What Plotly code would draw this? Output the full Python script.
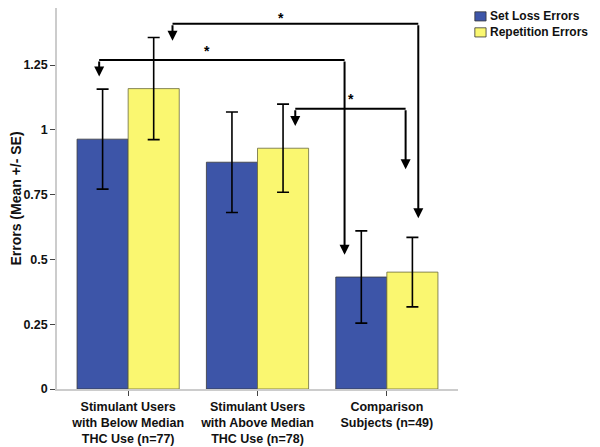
import plotly.graph_objects as go

categories = ["Stimulant Users<br>with Below Median<br>THC Use (n=77)",
              "Stimulant Users<br>with Above Median<br>THC Use (n=78)",
              "Comparison<br>Subjects (n=49)"]
series_names = ["Set Loss Errors", "Repetition Errors"]
set_loss = [0.964, 0.875, 0.432]
set_loss_se = [0.193, 0.194, 0.178]
repetition = [1.159, 0.929, 0.451]
repetition_se = [0.197, 0.170, 0.134]
y_ticks = [0, 0.25, 0.5, 0.75, 1, 1.25]
y_tick_labels = ["0", "0.25", "0.5", "0.75", "1", "1.25"]

FONT = "Liberation Sans, Arial, sans-serif"
BLUE = "#3d55a8"
YELLOW = "#faf770"
xs = [0, 1, 2]

fig = go.Figure()
fig.add_trace(go.Bar(x=xs, y=set_loss, name=series_names[0], showlegend=False,
                     marker=dict(color=BLUE, line=dict(color="#3a3a3a", width=0.8)),
                     error_y=dict(type="data", array=set_loss_se, color="black", thickness=1.6, width=6)))
fig.add_trace(go.Bar(x=xs, y=repetition, name=series_names[1], showlegend=False,
                     marker=dict(color=YELLOW, line=dict(color="#6a6a40", width=0.8)),
                     error_y=dict(type="data", array=repetition_se, color="black", thickness=1.6, width=6)))

# significance brackets: (left x, left tip y, bar y, right x, right tip y, star x, star top y)
brackets = [
    (-0.224, 1.206, 1.269, 1.673, 0.518, 0.609, 1.344),
    (0.343, 1.344, 1.409, 2.243, 0.659, 1.179, 1.470),
    (1.292, 1.015, 1.081, 2.145, 0.848, 1.726, 1.156),
]
for lx, ltip, by, rx, rtip, sx, sy in brackets:
    fig.add_shape(type="line", xref="x", yref="y", x0=lx, x1=rx, y0=by, y1=by,
                  line=dict(color="black", width=2))
    for xx, tip in ((lx, ltip), (rx, rtip)):
        fig.add_annotation(x=xx, y=tip, ax=xx, ay=by, xref="x", yref="y", axref="x", ayref="y",
                           text="", showarrow=True, arrowhead=2, arrowsize=1.0, arrowwidth=2,
                           arrowcolor="black", standoff=0)
    fig.add_annotation(x=sx, y=sy, xref="x", yref="y", text="*", showarrow=False,
                       yanchor="top",
                       font=dict(size=14, color="black", family=FONT, weight="bold"))

# legend (drawn in paper coordinates, right of the plot)
legend_rows = [(0.990, 0.966, 0.978), (0.948, 0.924, 0.936)]
for (y1, y0, yc), name, col in zip(legend_rows, series_names, [BLUE, YELLOW]):
    fig.add_shape(type="rect", xref="paper", yref="paper", x0=1.042, x1=1.070, y0=y0, y1=y1,
                  fillcolor=col, line=dict(color="#333", width=0.8))
    fig.add_annotation(x=1.074, y=yc, xref="paper", yref="paper", text=name, showarrow=False,
                       xanchor="left", yanchor="middle",
                       font=dict(size=12, color="#111", family=FONT, weight="bold"))

fig.update_layout(
    width=592, height=439,
    margin=dict(l=49, r=142, t=0, b=58, autoexpand=False),
    paper_bgcolor="white", plot_bgcolor="white",
    barmode="group", bargap=0.21, bargroupgap=0,
    font=dict(family=FONT, size=12, color="#111", weight="bold"),
    showlegend=False,
    xaxis=dict(range=[-0.55, 2.55], tickmode="array", tickvals=xs, ticktext=categories,
               tickangle=0, automargin=False,
               showline=True, linecolor="#cccccc", linewidth=1.5, ticks="outside",
               ticklen=5, tickcolor="#444", showgrid=False, zeroline=False,
               tickfont=dict(size=12.5, family=FONT, weight="bold")),
    yaxis=dict(range=[0, 1.47], tickmode="array", tickvals=y_ticks, ticktext=y_tick_labels,
               automargin=False,
               showline=True, linecolor="#cccccc", linewidth=1.5, ticks="outside",
               ticklen=5, tickcolor="#444", showgrid=False, zeroline=False,
               tickfont=dict(size=12.5, family=FONT, weight="bold"),
               title=dict(text="Errors (Mean +/- SE)", standoff=7,
                          font=dict(size=14, family=FONT, weight="bold"))),
)

fig.write_html("out.html")
